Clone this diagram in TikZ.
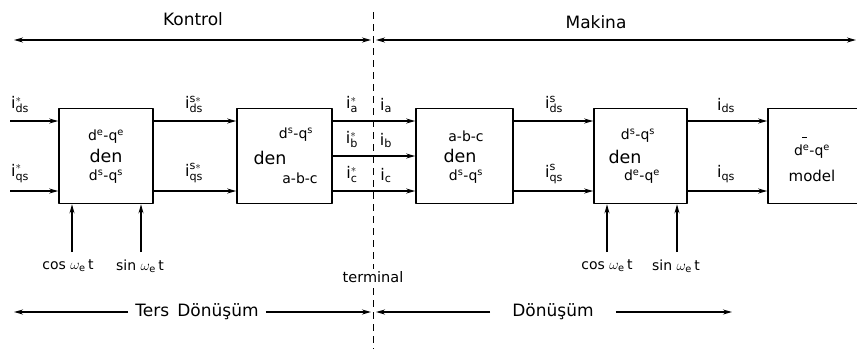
\documentclass[tikz,border=0pt]{standalone}
\usepackage{fontspec}
\setmainfont{DejaVu Sans}
\setsansfont{DejaVu Sans}
\usetikzlibrary{arrows.meta,positioning}
\newcommand{\akim}[2]{i$^{\mathsf{#1}}_{\mathsf{#2}}$}
\newcommand{\eksen}[2]{d$^{\mathsf{#1}}$-q$^{\mathsf{#2}}$}
\tikzset{
  blok/.style={draw, line width=1.6pt, minimum height=95pt},
  sinyal/.style={-{Stealth[length=9pt,width=5pt]}, line width=1.3pt},
  cift/.style={{Stealth[length=9pt,width=5pt]}-{Stealth[length=9pt,width=5pt]}, line width=1.3pt},
  baslik/.style={font=\fontsize{17}{19}\selectfont},
  kutuyazi/.style={font=\fontsize{14}{16}\selectfont, inner sep=0pt},
  den/.style={font=\fontsize{17.5}{20}\selectfont, inner sep=0pt},
  etiket/.style={font=\fontsize{16}{18}\selectfont, inner sep=0pt, above},
  aci/.style={font=\fontsize{14}{16}\selectfont, inner sep=1pt}
}
\begin{document}
\begin{tikzpicture}[x=1pt, y=-1pt, line join=round]
  \useasboundingbox (0,0) rectangle (857,349);
  \clip (0,0) rectangle (857,349);
  % ust oklar
  \coordinate (k1) at (14,40);
  \coordinate (k2) at (371,40);
  \coordinate (m1) at (376,40);
  \coordinate (m2) at (856,40);
  \draw[cift] (k1) -- (k2);
  \draw[cift] (m1) -- (m2);
  \node[baslik] (kontrol) at (193,19) {Kontrol};
  \node[baslik] (makina) at (596,22) {Makina};
  % terminal cizgisi
  \coordinate (tu) at (373,12);
  \coordinate (ta) at (373,349);
  \draw[line width=1pt, dash pattern=on 7pt off 5pt] (tu) -- (ta);
  \node[font=\fontsize{14.5}{16}\selectfont, fill=white, inner sep=2pt] (terminal) at (373,277) {terminal};
  % bloklar
  \node[blok, minimum width=94pt] (b1) at (106,156) {};
  \node[blok, minimum width=95pt] (b2) at (284.5,156) {};
  \node[blok, minimum width=97pt] (b3) at (464.5,156) {};
  \node[blok, minimum width=93pt] (b4) at (640.5,156) {};
  \node[blok, minimum width=100pt] (b5) at (818,156) {};
  % blok yazilari
  \node[kutuyazi] (b1a) at (106,137) {\eksen{e}{e}};
  \node[den] (b1b) at (106,156) {den};
  \node[kutuyazi] (b1c) at (106,177) {\eksen{s}{s}};
  \node[kutuyazi] (b2a) at (296,135) {\eksen{s}{s}};
  \node[den] (b2b) at (270,158) {den};
  \node[kutuyazi] (b2c) at (300,178) {a-b-c};
  \node[kutuyazi] (b3a) at (466,136) {a-b-c};
  \node[den] (b3b) at (460,156) {den};
  \node[kutuyazi] (b3c) at (466,177) {\eksen{s}{s}};
  \node[kutuyazi] (b4a) at (638,136) {\eksen{s}{s}};
  \node[den] (b4b) at (625,157) {den};
  \node[kutuyazi] (b4c) at (642,177) {\eksen{e}{e}};
  \node[kutuyazi] (b5a) at (812,152) {\eksen{e}{e}};
  \node[kutuyazi, font=\fontsize{15}{17}\selectfont] (b5b) at (812,176) {model};
  \draw[line width=0.9pt] ([xshift=-10pt, yshift=8pt]b5a.north) -- ([xshift=-5pt, yshift=8pt]b5a.north);
  % giris ve ara sinyaller
  \coordinate (g1) at (10,121);
  \coordinate (g2) at (10,191);
  \draw[sinyal] (g1) -- (g1 -| b1.west);
  \draw[sinyal] (g2) -- (g2 -| b1.west);
  \draw[sinyal] (b1.east |- g1) -- (b2.west |- g1);
  \draw[sinyal] (b1.east |- g2) -- (b2.west |- g2);
  \draw[sinyal] (b2.east |- g1) -- (b3.west |- g1);
  \draw[sinyal] (b2.east) -- (b3.west);
  \draw[sinyal] (b2.east |- g2) -- (b3.west |- g2);
  \draw[sinyal] (b3.east |- g1) -- (b4.west |- g1);
  \draw[sinyal] (b3.east |- g2) -- (b4.west |- g2);
  \draw[sinyal] (b4.east |- g1) -- (b5.west |- g1);
  \draw[sinyal] (b4.east |- g2) -- (b5.west |- g2);
  % sinyal etiketleri
  \node[etiket] (ids1) at (20,113) {\akim{*}{ds}};
  \node[etiket] (iqs1) at (20,183) {\akim{*}{qs}};
  \node[etiket] (ids2) at (194,113) {\akim{s*}{ds}};
  \node[etiket] (iqs2) at (194,183) {\akim{s*}{qs}};
  \node[etiket] (ia1) at (352,113) {\akim{*}{a}};
  \node[etiket] (ib1) at (352,148) {\akim{*}{b}};
  \node[etiket] (ic1) at (352,183) {\akim{*}{c}};
  \node[etiket] (ia2) at (386,113) {i$_{\mathsf{a}}$};
  \node[etiket] (ib2) at (386,148) {i$_{\mathsf{b}}$};
  \node[etiket] (ic2) at (386,183) {i$_{\mathsf{c}}$};
  \node[etiket] (ids3) at (554,113) {\akim{s}{ds}};
  \node[etiket] (iqs3) at (554,184) {\akim{s}{qs}};
  \node[etiket] (ids4) at (726,113) {i$_{\mathsf{ds}}$};
  \node[etiket] (iqs4) at (726,183) {i$_{\mathsf{qs}}$};
  % aci girisleri
  \coordinate (c1) at (72,252);
  \coordinate (s1) at (141,252);
  \coordinate (c2) at (607,252);
  \coordinate (s2) at (677,252);
  \draw[sinyal] (c1) -- (c1 |- b1.south);
  \draw[sinyal] (s1) -- (s1 |- b1.south);
  \draw[sinyal] (c2) -- (c2 |- b4.south);
  \draw[sinyal] (s2) -- (s2 |- b4.south);
  \node[aci] (cos1) at (68,266) {cos $\omega_{\mathsf{e}}$\,t};
  \node[aci] (sin1) at (140,266) {sin $\omega_{\mathsf{e}}$\,t};
  \node[aci] (cos2) at (607,266) {cos $\omega_{\mathsf{e}}$\,t};
  \node[aci] (sin2) at (676,266) {sin $\omega_{\mathsf{e}}$\,t};
  % alt oklar
  \coordinate (a1) at (14,312);
  \coordinate (a2) at (371,312);
  \coordinate (a3) at (376,312);
  \coordinate (a4) at (732,312);
  \node[baslik, inner xsep=7pt] (ters) at (197,312) {Ters\, Dönüşüm};
  \node[baslik, inner xsep=22pt] (donusum) at (553,312) {Dönüşüm};
  \draw[sinyal] (ters.west) -- (a1);
  \draw[sinyal] (ters.east) -- (a2);
  \draw[sinyal] (donusum.west) -- (a3);
  \draw[sinyal] (donusum.east) -- (a4);
\end{tikzpicture}
\end{document}
